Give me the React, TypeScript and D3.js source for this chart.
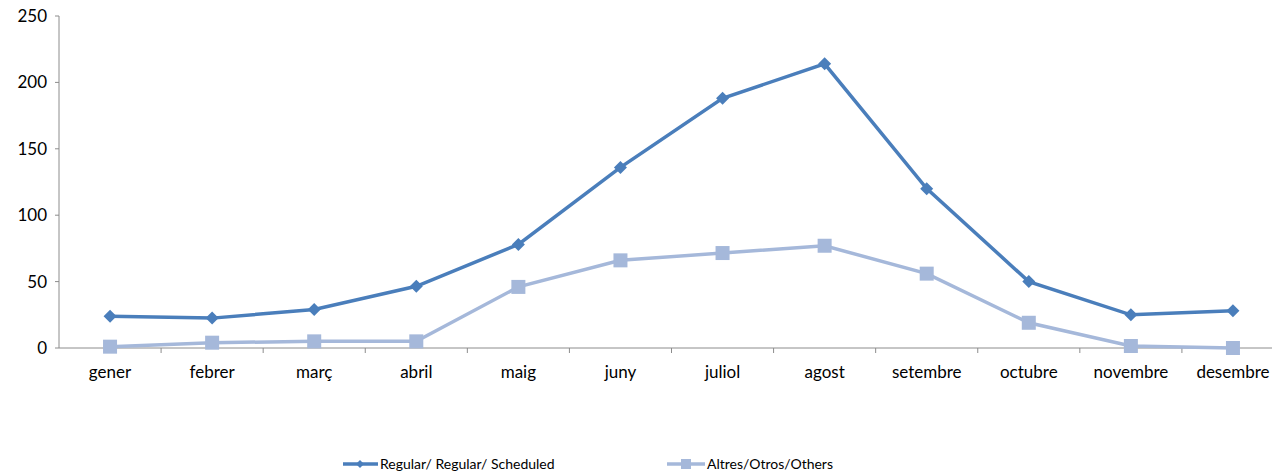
import React from "react";
import * as d3 from "d3";

const months = ["gener", "febrer", "març", "abril", "maig", "juny", "juliol", "agost", "setembre", "octubre", "novembre", "desembre"];
const regular = [24, 22.5, 29, 46.5, 78, 136, 188, 214, 120, 50, 25, 28];
const others = [1, 4, 5, 5, 46, 66, 71.5, 77, 56, 19, 1.5, 0];
const yTicks = [0, 50, 100, 150, 200, 250];

const W = 1272, H = 474;
const left = 59, right = 1284, top = 16, bottom = 348;
const c1 = "#4a7ebb", c2 = "#a5b8da";
const font = "'Lato', 'Open Sans', sans-serif";

export default function App() {
  const x = d3.scaleBand<string>().domain(months).range([left, right]);
  const y = d3.scaleLinear().domain([0, 250]).range([bottom, top]);
  const cx = (m: string) => (x(m) as number) + x.bandwidth() / 2;
  const line = d3.line<number>().x((_, i) => cx(months[i])).y((d) => y(d));
  const diamond = (px: number, py: number, s = 6.5) => `M${px},${py - s}L${px + s},${py}L${px},${py + s}L${px - s},${py}Z`;
  return (
    <svg width={W} height={H} style={{ position: "absolute", left: 0, top: 0 }} fontFamily={font}>
      <rect width={W} height={H} fill="#fff" />
      <line x1={left} x2={left} y1={top} y2={bottom} stroke="#8c8c8c" />
      <line x1={left} x2={right} y1={bottom} y2={bottom} stroke="#8c8c8c" />
      {yTicks.map((t) => (
        <g key={t}>
          <line x1={left - 4} x2={left} y1={y(t)} y2={y(t)} stroke="#8c8c8c" />
          <text x={47} y={y(t)} dy="0.35em" textAnchor="end" fontSize={17} fill="#000">{t}</text>
        </g>
      ))}
      {months.map((m, i) => (
        <g key={m}>
          <line x1={(x(m) as number) + x.bandwidth()} x2={(x(m) as number) + x.bandwidth()} y1={bottom} y2={bottom + 5} stroke="#8c8c8c" />
          <text x={cx(m)} y={378} textAnchor="middle" fontSize={17} fill="#000">{m}</text>
        </g>
      ))}
      <path d={line(others) || ""} fill="none" stroke={c2} strokeWidth={3.5} />
      {others.map((v, i) => (
        <rect key={i} x={cx(months[i]) - 7} y={y(v) - 7} width={14} height={14} fill={c2} />
      ))}
      <path d={line(regular) || ""} fill="none" stroke={c1} strokeWidth={3.5} />
      {regular.map((v, i) => (
        <path key={i} d={diamond(cx(months[i]), y(v))} fill={c1} />
      ))}
      <g>
        <line x1={343} x2={378} y1={464} y2={464} stroke={c1} strokeWidth={3.5} />
        <path d={diamond(360, 464, 4)} fill={c1} />
        <text x={380} y={464} dy="0.35em" fontSize={14} fill="#000">Regular/ Regular/ Scheduled</text>
        <line x1={667} x2={705} y1={464} y2={464} stroke={c2} strokeWidth={3.5} />
        <rect x={681} y={459} width={10} height={10} fill={c2} />
        <text x={707} y={464} dy="0.35em" fontSize={14} fill="#000">Altres/Otros/Others</text>
      </g>
    </svg>
  );
}
